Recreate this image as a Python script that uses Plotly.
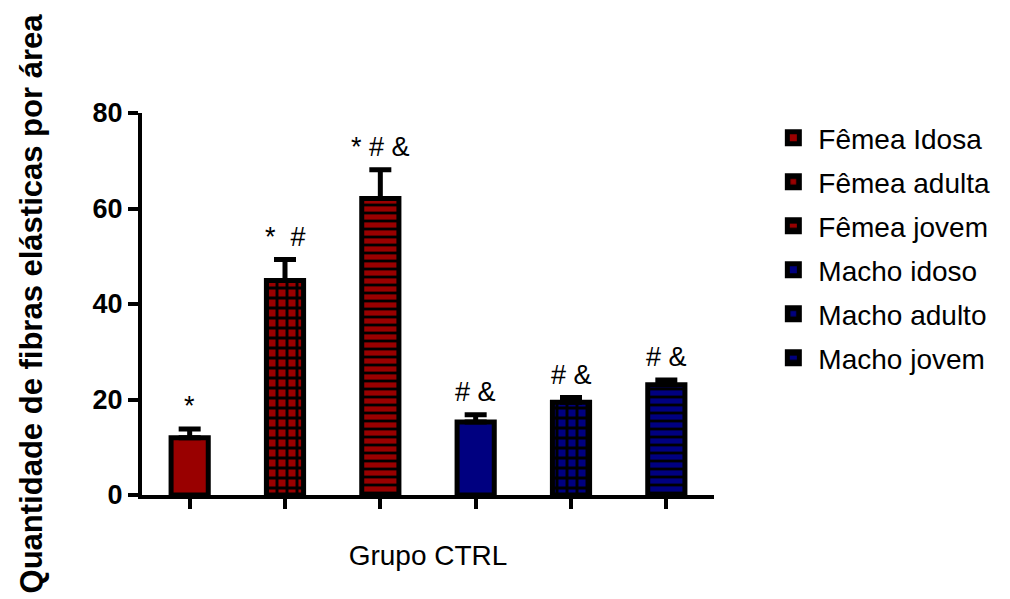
import plotly.graph_objects as go

groups = ["Fêmea Idosa", "Fêmea adulta", "Fêmea jovem", "Macho idoso", "Macho adulto", "Macho jovem"]
means = [12.0, 44.9, 62.1, 15.3, 19.4, 23.1]
sems = [1.8, 4.4, 6.0, 1.5, 1.0, 1.0]
signif = ["*", "*  #", "* # &", "# &", "# &", "# &"]
y_ticks = [0, 20, 40, 60, 80]

RED = "#990000"
BLUE = "#000080"
colors = [RED, RED, RED, BLUE, BLUE, BLUE]
shapes = ["", "+", "-", "", "+", "-"]
psize = {"": 8, "+": 10, "-": 8}
psolid = {"": 0.3, "+": 0.5, "-": 0.35}

FONT = "Arial, Liberation Sans, sans-serif"

fig = go.Figure()
for g, m, s, c, sh in zip(groups, means, sems, colors, shapes):
    fig.add_trace(go.Bar(
        x=[g], y=[m], name=g, legendgroup=g, width=0.39,
        marker=dict(color=c, line=dict(color="black", width=5),
                    pattern=dict(shape=sh, fgcolor="black", bgcolor=c,
                                 size=psize[sh], solidity=psolid[sh], fillmode="replace")),
        error_y=dict(type="data", array=[s], arrayminus=[0], symmetric=False,
                     color="black", thickness=5, width=11),
    ))

for g, m, s, t in zip(groups, means, sems, signif):
    fig.add_annotation(x=g, y=m + s, text=t, showarrow=False, yanchor="bottom",
                       yshift=6, font=dict(family=FONT, size=27, color="black"))

fig.update_layout(
    width=1010, height=599, template="none",
    paper_bgcolor="white", plot_bgcolor="white",
    margin=dict(l=142, r=296, t=113, b=104),
    barmode="overlay", showlegend=True,
    font=dict(family=FONT, color="black"),
    legend=dict(x=1.095, y=1.0, xanchor="left", yanchor="top",
                font=dict(family=FONT, size=28), tracegroupgap=4.6,
                itemwidth=40, bgcolor="rgba(0,0,0,0)"),
    xaxis=dict(type="category", categoryarray=groups, range=[-0.5, 5.5],
               showline=True, linecolor="black", linewidth=4, showgrid=False,
               zeroline=False, ticks="outside", ticklen=10, tickwidth=3.5,
               tickcolor="black", showticklabels=False, automargin=False,
               title=dict(text="Grupo CTRL", font=dict(family=FONT, size=28), standoff=38)),
    yaxis=dict(range=[0, 80], tickvals=y_ticks, showline=True, linecolor="black",
               linewidth=4, showgrid=False, zeroline=False, ticks="outside",
               ticklen=10, tickwidth=3.5, tickcolor="black", automargin=False,
               tickfont=dict(family=FONT, size=27, weight="bold"),
               title=dict(text="Quantidade de fibras elásticas por área",
                          font=dict(family=FONT, size=31, weight="bold"), standoff=42)),
)

fig.write_html("out.html")
